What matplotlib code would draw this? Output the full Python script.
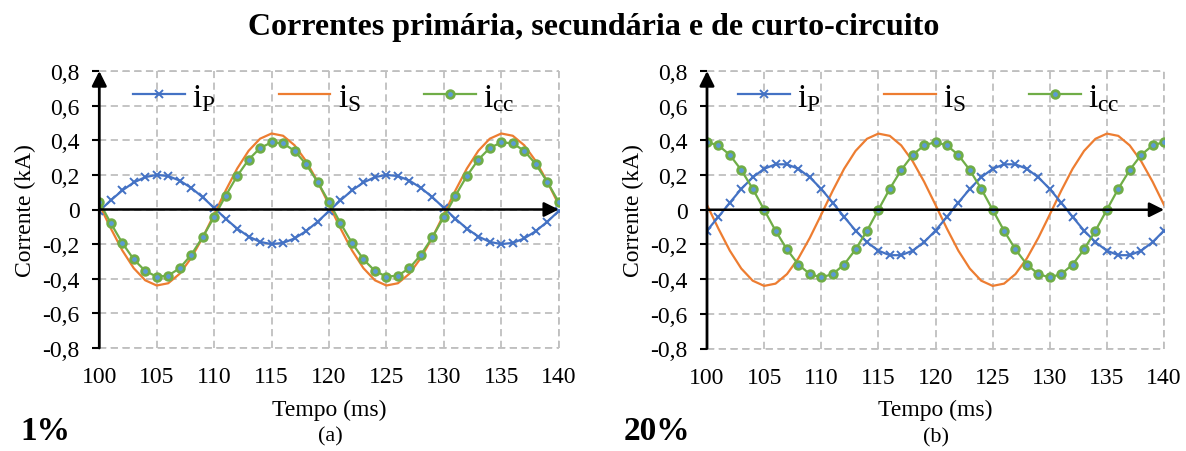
import matplotlib
matplotlib.use("Agg")
import matplotlib.pyplot as plt
import matplotlib.ticker as ticker

plt.rcParams['font.family'] = ['Liberation Serif', 'DejaVu Serif']
plt.rcParams['mathtext.fontset'] = 'custom'
plt.rcParams['mathtext.rm'] = 'Liberation Serif'
plt.rcParams['mathtext.it'] = 'Liberation Serif:italic'

# Tempo (ms), one sample per millisecond
tempo = list(range(100, 141))

# (a) 1 %
i_p_a = [-0.009,
         0.053, 0.110, 0.156, 0.187, 0.200, 0.193, 0.167, 0.125, 0.071, 0.009,
         -0.053, -0.110, -0.156, -0.187, -0.200, -0.193, -0.167, -0.125, -0.071, -0.009,
         0.053, 0.110, 0.156, 0.187, 0.200, 0.193, 0.167, 0.125, 0.071, 0.009,
         -0.053, -0.110, -0.156, -0.187, -0.200, -0.193, -0.167, -0.125, -0.071, -0.009]
i_s_a = [0.028,
         -0.109, -0.236, -0.339, -0.409, -0.439, -0.426, -0.371, -0.280, -0.162, -0.028,
         0.109, 0.236, 0.339, 0.409, 0.439, 0.426, 0.371, 0.280, 0.162, 0.028,
         -0.109, -0.236, -0.339, -0.409, -0.439, -0.426, -0.371, -0.280, -0.162, -0.028,
         0.109, 0.236, 0.339, 0.409, 0.439, 0.426, 0.371, 0.280, 0.162, 0.028]
i_cc_a = [0.043,
          -0.079, -0.193, -0.288, -0.355, -0.388, -0.382, -0.339, -0.262, -0.160, -0.043,
          0.079, 0.193, 0.288, 0.355, 0.388, 0.382, 0.339, 0.262, 0.160, 0.043,
          -0.079, -0.193, -0.288, -0.355, -0.388, -0.382, -0.339, -0.262, -0.160, -0.043,
          0.079, 0.193, 0.288, 0.355, 0.388, 0.382, 0.339, 0.262, 0.160, 0.043]

# (b) 20 %
i_p_b = [-0.120,
         -0.041, 0.041, 0.120, 0.187, 0.236, 0.262, 0.262, 0.236, 0.187, 0.120,
         0.041, -0.041, -0.120, -0.187, -0.236, -0.262, -0.262, -0.236, -0.187, -0.120,
         -0.041, 0.041, 0.120, 0.187, 0.236, 0.262, 0.262, 0.236, 0.187, 0.120,
         0.041, -0.041, -0.120, -0.187, -0.236, -0.262, -0.262, -0.236, -0.187, -0.120]
i_s_b = [0.028,
         -0.109, -0.236, -0.339, -0.409, -0.439, -0.426, -0.371, -0.280, -0.162, -0.028,
         0.109, 0.236, 0.339, 0.409, 0.439, 0.426, 0.371, 0.280, 0.162, 0.028,
         -0.109, -0.236, -0.339, -0.409, -0.439, -0.426, -0.371, -0.280, -0.162, -0.028,
         0.109, 0.236, 0.339, 0.409, 0.439, 0.426, 0.371, 0.280, 0.162, 0.028]
i_cc_b = [0.390,
          0.371, 0.316, 0.229, 0.121, 0.000, -0.121, -0.229, -0.316, -0.371, -0.390,
          -0.371, -0.316, -0.229, -0.121, 0.000, 0.121, 0.229, 0.316, 0.371, 0.390,
          0.371, 0.316, 0.229, 0.121, 0.000, -0.121, -0.229, -0.316, -0.371, -0.390,
          -0.371, -0.316, -0.229, -0.121, 0.000, 0.121, 0.229, 0.316, 0.371, 0.390]

x_ticks = [100, 105, 110, 115, 120, 125, 130, 135, 140]
y_ticks = [-0.8, -0.6, -0.4, -0.2, 0.0, 0.2, 0.4, 0.6, 0.8]

BLUE = '#4472c4'
ORANGE = '#ed7d31'
GREEN = '#70ad47'
GRID = '#bfbfbf'
DASH = (0, (4, 2.5))


def fmt_virgula(v, pos):
    if abs(v) < 1e-9:
        return '0'
    return f'{v:.1f}'.replace('.', ',')


def draw_panel(ax, ip, is_, icc, letter, leg_x):
    ax.plot(tempo, is_, color=ORANGE, lw=1.6, zorder=3, label=r'$\mathrm{i}_\mathrm{S}$')
    ax.plot(tempo, ip, color=BLUE, lw=1.6, marker='x', ms=5.5, mew=1.4,
            zorder=4, label=r'$\mathrm{i}_\mathrm{P}$')
    ax.plot(tempo, icc, color=GREEN, lw=1.6, marker='o', ms=5.5, mfc='#5b9bd5',
            mec=GREEN, mew=2.0, zorder=5, label=r'$\mathrm{i}_\mathrm{cc}$')

    ax.set_xlim(100, 140)
    ax.set_ylim(-0.8, 0.8)
    ax.set_xticks(x_ticks)
    ax.set_yticks(y_ticks)
    ax.yaxis.set_major_formatter(ticker.FuncFormatter(fmt_virgula))
    ax.tick_params(axis='x', length=0, pad=13, labelsize=17)
    ax.tick_params(axis='y', length=5, width=1.5, pad=9, labelsize=17)

    for s in ax.spines.values():
        s.set_visible(False)
    ax.grid(True, color=GRID, lw=1.3, linestyle=DASH, zorder=0)
    ax.set_axisbelow(True)
    # bordas tracejadas do quadro
    ax.plot([140, 140], [-0.8, 0.8], color=GRID, lw=1.3, linestyle=DASH, zorder=0, clip_on=False)
    ax.plot([100, 140], [0.8, 0.8], color=GRID, lw=1.3, linestyle=DASH, zorder=0, clip_on=False)
    ax.plot([100, 140], [-0.8, -0.8], color=GRID, lw=1.3, linestyle=DASH, zorder=0, clip_on=False)

    # eixos com setas
    ax.annotate('', xy=(100, 0.8), xytext=(100, -0.8),
                arrowprops=dict(arrowstyle='-|>', color='black', lw=2,
                                mutation_scale=22, shrinkA=0, shrinkB=0),
                annotation_clip=False, zorder=6)
    ax.annotate('', xy=(140, 0), xytext=(100, 0),
                arrowprops=dict(arrowstyle='-|>', color='black', lw=1.8,
                                mutation_scale=22, shrinkA=0, shrinkB=0),
                annotation_clip=False, zorder=6)

    ax.set_ylabel('Corrente (kA)', fontsize=17, va='center')
    ax.yaxis.set_label_coords(-0.16, 0.5)
    ax.set_xlabel('Tempo (ms)', fontsize=17, va='center')
    ax.xaxis.set_label_coords(0.5, -0.22)
    ax.text(0.502, -0.318, letter, transform=ax.transAxes, ha='center', va='center', fontsize=16)

    handles, labels = ax.get_legend_handles_labels()
    order = [1, 0, 2]
    ax.legend([handles[i] for i in order], [labels[i] for i in order],
              loc='center left', bbox_to_anchor=(leg_x, 0.905), ncol=3,
              frameon=False, fontsize=24, handlelength=1.55, handletextpad=0.22,
              columnspacing=1.9, numpoints=1, borderpad=0, borderaxespad=0)
    return ax


fig = plt.figure(figsize=(11.86, 4.52), dpi=100)
W, H = 1186, 452
ax_a = fig.add_axes([99.3 / W, 1 - 349 / H, (558.7 - 99.3) / W, (349 - 72) / H])
ax_b = fig.add_axes([707 / W, 1 - 349.5 / H, (1164 - 707) / W, (349.5 - 72) / H])

draw_panel(ax_a, i_p_a, i_s_a, i_cc_a, '(a)', 0.073)
draw_panel(ax_b, i_p_b, i_s_b, i_cc_b, '(b)', 0.068)

fig.text(593.5 / W, 1 - 28 / H, 'Correntes primária, secundária e de curto-circuito',
         ha='center', va='center', fontsize=23, fontweight='bold')
fig.text(45 / W, 1 - 432 / H, '1%', ha='center', va='center', fontsize=24, fontweight='bold')
fig.text(657 / W, 1 - 432 / H, '20%', ha='center', va='center', fontsize=24, fontweight='bold')

fig.savefig('out.png', dpi=100)
